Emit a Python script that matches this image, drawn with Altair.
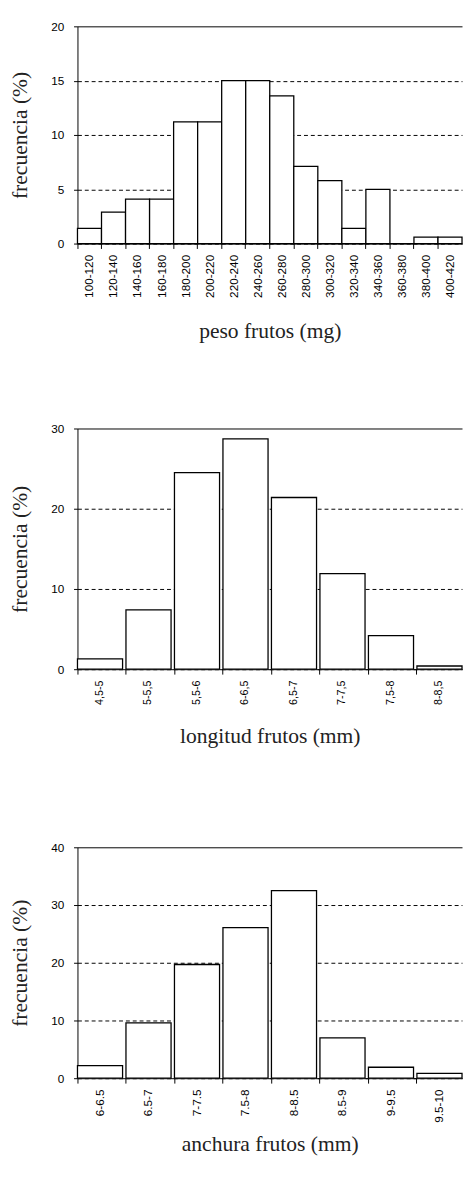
import altair as alt
import pandas as pd

# ---- data ----
peso_cats = ["100-120", "120-140", "140-160", "160-180", "180-200", "200-220",
             "220-240", "240-260", "260-280", "280-300", "300-320", "320-340",
             "340-360", "360-380", "380-400", "400-420"]
peso_vals = [1.4, 2.9, 4.1, 4.1, 11.2, 11.2, 15.0, 15.0, 13.6, 7.1, 5.8, 1.4,
             5.0, 0.0, 0.6, 0.6]

long_cats = ["4,5-5", "5-5,5", "5,5-6", "6-6,5", "6,5-7", "7-7,5", "7,5-8", "8-8,5"]
long_vals = [1.3, 7.4, 24.5, 28.7, 21.4, 11.9, 4.2, 0.4]

anch_cats = ["6-6.5", "6.5-7", "7-7.5", "7.5-8", "8-8.5", "8.5-9", "9-9.5", "9.5-10"]
anch_vals = [2.2, 9.6, 19.7, 26.1, 32.5, 7.0, 1.9, 0.85]

y_ticks_peso = [0, 5, 10, 15, 20]
y_ticks_long = [0, 10, 20, 30]
y_ticks_anch = [0, 10, 20, 30, 40]

y_title = "frecuencia (%)"
x_titles = ["peso frutos (mg)", "longitud frutos (mm)", "anchura frutos (mm)"]

W = 393


def panel(cats, vals, yticks, xtitle, height, top_extra, pad_inner, label_size, x_title_pad):
    df = pd.DataFrame({"cat": cats, "val": vals})
    ymax = yticks[-1]
    return alt.Chart(df).mark_bar(fill="white", stroke="black", strokeWidth=1.3).encode(
        x=alt.X("cat:N", sort=cats,
                scale=alt.Scale(paddingInner=pad_inner, paddingOuter=0),
                axis=alt.Axis(title=xtitle, labelAngle=-90, bandPosition=0,
                              labelFontSize=label_size,
                              labelPadding=6, tickSize=5,
                              titlePadding=x_title_pad, grid=False)),
        y=alt.Y("val:Q",
                scale=alt.Scale(domain=[0, ymax], nice=False,
                                range=[height + top_extra, top_extra]),
                axis=alt.Axis(title=y_title, values=yticks, grid=True,
                              gridColor="black", gridWidth=1,
                              gridDash=alt.condition(f"datum.value == {ymax}",
                                                     alt.value([]), alt.value([4, 3])),
                              tickSize=4, labelPadding=10, labelFontSize=12,
                              titlePadding=20)),
    ).properties(width=W, height=height + top_extra)


c1 = panel(peso_cats, peso_vals, y_ticks_peso, x_titles[0], 222, 0, 0.0, 12, 24)
c2 = panel(long_cats, long_vals, y_ticks_long, x_titles[1], 246, 7, 0.07, 11, 22)
c3 = panel(anch_cats, anch_vals, y_ticks_anch, x_titles[2], 236, 0, 0.07, 12, 12)

chart = alt.vconcat(c1, c2, c3, spacing=182, bounds="flush").properties(
    padding={"left": 0, "top": 0, "right": 0, "bottom": 0},
    background="white",
).configure_view(stroke=None).configure_axis(
    labelFont="Liberation Sans", labelColor="black",
    domainColor="black", tickColor="black", domainWidth=1, tickWidth=1,
    titleFont="Liberation Serif", titleFontSize=22, titleFontWeight="normal",
    titleColor="#222",
)

chart.save("out.html", embed_options={"renderer": "svg", "actions": False})
